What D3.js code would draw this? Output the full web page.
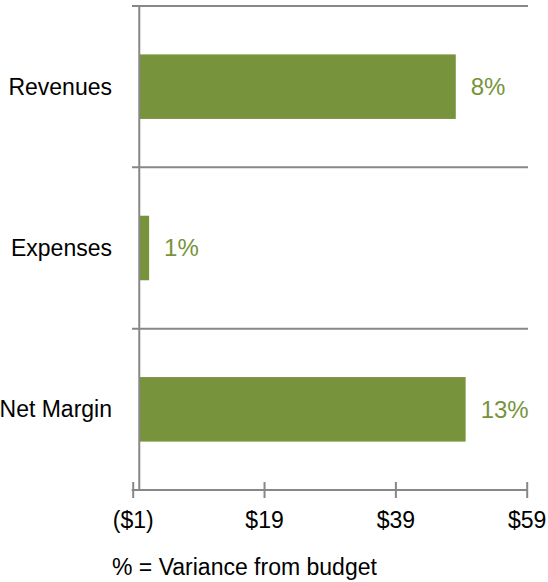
<!DOCTYPE html>
<html><head><meta charset="utf-8">
<script src="https://cdn.jsdelivr.net/npm/d3@7"></script>
<style>body{margin:0;background:#fff}svg{display:block}text{font-family:"Liberation Sans",Arial,sans-serif}</style>
</head><body>
<script>
const categories = ["Revenues", "Expenses", "Net Margin"];
const values = [48.2, 1.5, 49.7];
const pctLabels = ["8%", "1%", "13%"];
const tickValues = [-1, 19, 39, 59];
const tickLabels = ["($1)", "$19", "$39", "$59"];
const footnote = "% = Variance from budget";

const W = 548, H = 582;
const svg = d3.select("body").append("svg").attr("width", W).attr("height", H);
const x = d3.scaleLinear().domain([-1, 59]).range([132.7, 526.7]);
const y = d3.scaleBand().domain(categories).range([6, 490]).paddingInner(0.6).paddingOuter(0.3);
const grey = "#878787", green = "#77933C";
const data = categories.map((c, i) => ({c, v: values[i], l: pctLabels[i]}));

// category separators
const step = y.step();
const seps = d3.range(categories.length).map(i => 6 + i * step);
svg.selectAll("line.sep").data(seps).enter().append("line")
  .attr("x1", 132).attr("x2", 528).attr("y1", d => d).attr("y2", d => d)
  .attr("stroke", grey).attr("stroke-width", 2);

// bars
svg.selectAll("rect.bar").data(data).enter().append("rect")
  .attr("x", x(0)).attr("y", d => y(d.c))
  .attr("width", d => x(d.v) - x(0)).attr("height", y.bandwidth())
  .attr("fill", green);

// vertical axis line at 0
svg.append("line").attr("x1", x(0)).attr("x2", x(0)).attr("y1", 6).attr("y2", 490)
  .attr("stroke", grey).attr("stroke-width", 2);

// x axis
const xAxis = d3.axisBottom(x).tickValues(tickValues).tickSize(16)
  .tickFormat((d, i) => tickLabels[i]).tickPadding(14);
const gx = svg.append("g").attr("transform", "translate(0,482)").call(xAxis);
gx.select(".domain").remove();
gx.selectAll(".tick line").attr("stroke", grey).attr("stroke-width", 2);
gx.selectAll(".tick text").attr("font-size", 23).attr("fill", "#000")
  .attr("font-family", "'Liberation Sans', Arial, sans-serif");
svg.append("line").attr("x1", x(-1) - 1).attr("x2", x(59) + 1).attr("y1", 490).attr("y2", 490)
  .attr("stroke", grey).attr("stroke-width", 2);

// category labels
svg.selectAll("text.cat").data(data).enter().append("text")
  .attr("x", 112).attr("y", d => y(d.c) + y.bandwidth() / 2)
  .attr("dy", "0.35em").attr("text-anchor", "end")
  .attr("font-size", 23).attr("fill", "#000").text(d => d.c);

// value labels
svg.selectAll("text.val").data(data).enter().append("text")
  .attr("x", d => x(d.v) + 15).attr("y", d => y(d.c) + y.bandwidth() / 2)
  .attr("dy", "0.35em").attr("font-size", 24).attr("fill", green).text(d => d.l);

svg.append("text").attr("x", 112).attr("y", 575).attr("font-size", 23)
  .attr("fill", "#000").text(footnote);
</script>
</body></html>
